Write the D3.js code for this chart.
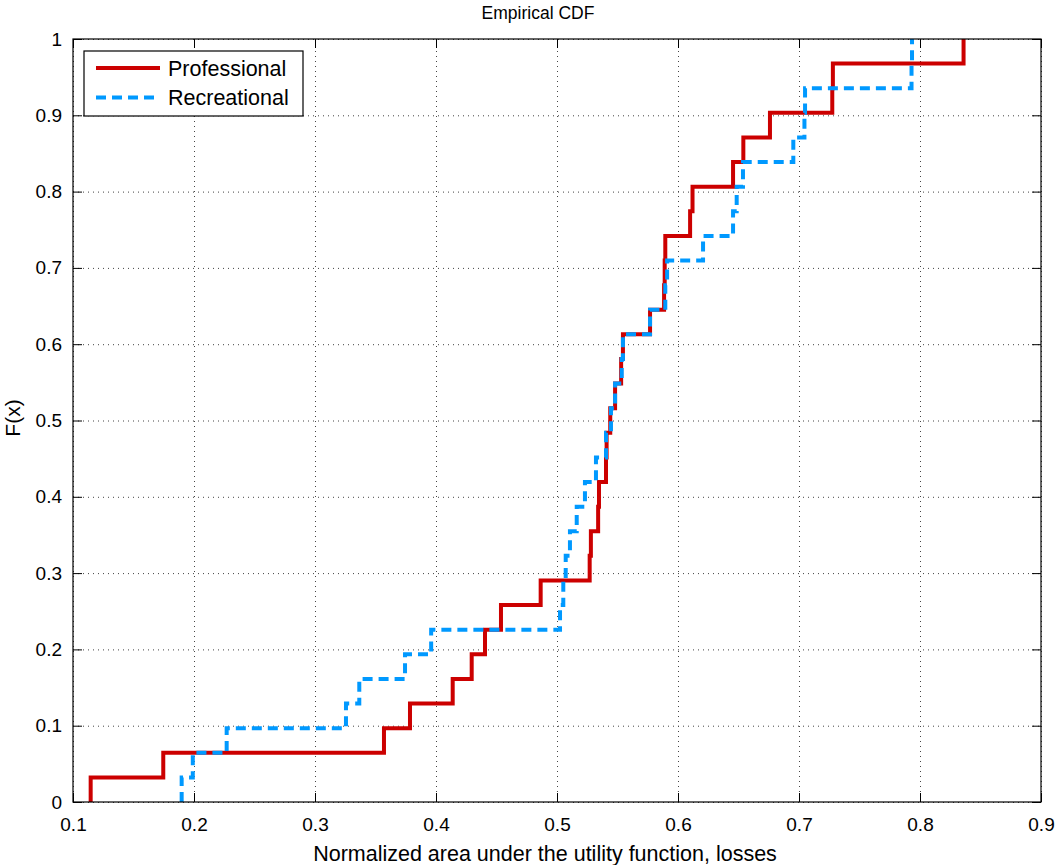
<!DOCTYPE html>
<html>
<head>
<meta charset="utf-8">
<script src="https://cdn.jsdelivr.net/npm/d3@7"></script>
<style>
  body { margin: 0; background: #fff; }
  svg { display: block; font-family: "Liberation Sans", Arial, Helvetica, sans-serif; }
  .grid line { stroke: #444; stroke-dasharray: 1,4; }
  .grid path { display: none; }
  .axis path, .axis line { stroke: #000; }
  .axis text { font-size: 19px; fill: #000; }
</style>
</head>
<body>
<div id="chart"></div>
<script>
var professional = [0.1146, 0.1746, 0.357, 0.3785, 0.4138, 0.4295, 0.4405, 0.4537, 0.4865,
  0.527, 0.528, 0.534, 0.5347, 0.5405, 0.541, 0.544, 0.548, 0.553, 0.5545, 0.5769,
  0.5885, 0.589, 0.5895, 0.61, 0.612, 0.6455, 0.654, 0.676, 0.7275, 0.728, 0.836];
var recreational = [0.1898, 0.199, 0.227, 0.3256, 0.3366, 0.3744, 0.396, 0.5025, 0.5052,
  0.5072, 0.5107, 0.5163, 0.5231, 0.5322, 0.5405, 0.5446, 0.548, 0.5535, 0.5545, 0.5769,
  0.5895, 0.591, 0.6207, 0.6455, 0.6485, 0.6537, 0.6953, 0.7045, 0.705, 0.793, 0.7934];
var seriesNames = ["Professional", "Recreational"];
var xTicks = [0.1, 0.2, 0.3, 0.4, 0.5, 0.6, 0.7, 0.8, 0.9];
var yTicks = [0, 0.1, 0.2, 0.3, 0.4, 0.5, 0.6, 0.7, 0.8, 0.9, 1];

var margin = {top: 39, right: 15, bottom: 63, left: 73};
var W = 1056, H = 865;
var width = W - margin.left - margin.right;
var height = H - margin.top - margin.bottom;

var svg = d3.select("#chart").append("svg")
  .attr("width", W)
  .attr("height", H);

var g = svg.append("g")
  .attr("transform", "translate(" + margin.left + "," + margin.top + ")");

var x = d3.scaleLinear().domain([0.1, 0.9]).range([0, width]);
var y = d3.scaleLinear().domain([0, 1]).range([height, 0]);

// grid
g.append("g").attr("class", "grid")
  .attr("transform", "translate(0," + height + ")")
  .call(d3.axisBottom(x).tickValues(xTicks).tickSize(-height).tickFormat(""));
g.append("g").attr("class", "grid")
  .call(d3.axisLeft(y).tickValues(yTicks).tickSize(-width).tickFormat(""));

// empirical cdf lines
function ecdf(vals) {
  var n = vals.length;
  var pts = [[vals[0], 0]];
  vals.forEach(function(v, i) { pts.push([v, (i + 1) / n]); });
  return pts;
}

var line = d3.line()
  .x(function(d) { return x(d[0]); })
  .y(function(d) { return y(d[1]); })
  .curve(d3.curveStepAfter);

g.append("path")
  .datum(ecdf(professional))
  .attr("d", line)
  .attr("fill", "none")
  .attr("stroke", "#cc0000")
  .attr("stroke-width", 4);

g.append("path")
  .datum(ecdf(recreational))
  .attr("d", line)
  .attr("fill", "none")
  .attr("stroke", "#0099ff")
  .attr("stroke-width", 4)
  .attr("stroke-dasharray", "10,6");

// axes with inward ticks, box on
var fmt = function(d) { return d === 0 || d === 1 ? d3.format("d")(d) : d3.format(".1f")(d); };

g.append("g").attr("class", "axis")
  .attr("transform", "translate(0," + height + ")")
  .call(d3.axisBottom(x).tickValues(xTicks).tickSizeInner(-9).tickSizeOuter(0).tickPadding(16).tickFormat(fmt))
  .call(function(s) { s.select(".domain").remove(); });
g.append("g").attr("class", "axis")
  .call(d3.axisTop(x).tickValues(xTicks).tickSizeInner(-9).tickSizeOuter(0).tickFormat(""))
  .call(function(s) { s.select(".domain").remove(); });
g.append("g").attr("class", "axis")
  .call(d3.axisLeft(y).tickValues(yTicks).tickSizeInner(-9).tickSizeOuter(0).tickPadding(11).tickFormat(fmt))
  .call(function(s) { s.select(".domain").remove(); });
g.append("g").attr("class", "axis")
  .attr("transform", "translate(" + width + ",0)")
  .call(d3.axisRight(y).tickValues(yTicks).tickSizeInner(-9).tickSizeOuter(0).tickFormat(""))
  .call(function(s) { s.select(".domain").remove(); });

g.append("rect")
  .attr("width", width)
  .attr("height", height)
  .attr("fill", "none")
  .attr("stroke", "#000")
  .attr("stroke-width", 1.2);

// title and labels
svg.append("text")
  .attr("x", 538)
  .attr("y", 19)
  .attr("text-anchor", "middle")
  .style("font-size", "17.5px")
  .text("Empirical CDF");

svg.append("text")
  .attr("x", 545)
  .attr("y", 861)
  .attr("text-anchor", "middle")
  .style("font-size", "21.5px")
  .text("Normalized area under the utility function, losses");

svg.append("text")
  .attr("transform", "translate(20," + 418 + ") rotate(-90)")
  .attr("text-anchor", "middle")
  .style("font-size", "21px")
  .text("F(x)");

// legend
var legend = g.append("g").attr("transform", "translate(11,12)");
legend.append("rect")
  .attr("width", 219)
  .attr("height", 65)
  .attr("fill", "#fff")
  .attr("stroke", "#000")
  .attr("stroke-width", 1.2);

var legStyles = [{c: "#cc0000", dash: null}, {c: "#0099ff", dash: "10,6"}];
seriesNames.forEach(function(name, i) {
  var ly = 17 + i * 29.5;
  legend.append("line")
    .attr("x1", 12).attr("x2", 76)
    .attr("y1", ly).attr("y2", ly)
    .attr("stroke", legStyles[i].c)
    .attr("stroke-width", 4)
    .attr("stroke-dasharray", legStyles[i].dash);
  legend.append("text")
    .attr("x", 84)
    .attr("y", ly + 7.5)
    .style("font-size", "21.5px")
    .text(name);
});
</script>
</body>
</html>
